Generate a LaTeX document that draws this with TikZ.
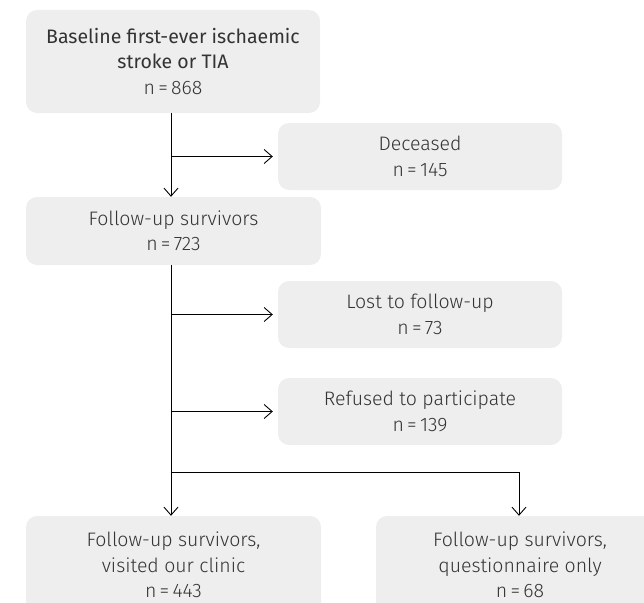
\documentclass[tikz,border=0pt]{standalone}
\usepackage{fontspec}
\setmainfont{Fira Sans Light}[BoldFont={Fira Sans}]
\usetikzlibrary{arrows.meta,calc}
\definecolor{BoxGrey}{HTML}{EEEEEE}
\definecolor{Ink}{HTML}{333333}

\begin{document}
\begin{tikzpicture}[x=1pt, y=-1pt, >={Straight Barb[length=8pt,width=14pt]},
    flowbox/.style={fill=BoxGrey, rounded corners=11pt, text=Ink, align=center,
      inner sep=0pt, font=\fontsize{19.5}{25.5}\selectfont},
    flowline/.style={line width=0.9pt, color=black}]
    \useasboundingbox (0,0) rectangle (644,602);
    \clip (0,0) rectangle (644,602);
    \coordinate (trunk) at (171,0);
    \coordinate (side) at (519,0);
    \node[flowbox, minimum width=294pt, minimum height=103pt] (base) at (173,61.5) {
      \textbf{Baseline first-ever ischaemic}\\\textbf{stroke or TIA}\\n\,=\,868
    };
    \node[flowbox, minimum width=284pt, minimum height=67pt] (dec) at (420,156.5) {
      Deceased\\n\,=\,145
    };
    \node[flowbox, minimum width=295pt, minimum height=68pt] (fu) at (173.5,231) {
      Follow-up survivors\\n\,=\,723
    };
    \node[flowbox, minimum width=284pt, minimum height=67pt] (lost) at (420,314.5) {
      Lost to follow-up\\n\,=\,73
    };
    \node[flowbox, minimum width=284pt, minimum height=67pt] (ref) at (420,411.5) {
      Refused to participate\\n\,=\,139
    };
    \node[flowbox, minimum width=295pt, minimum height=98pt] (clinic) at (173.5,565) {
      Follow-up survivors,\\visited our clinic\\n\,=\,443
    };
    \node[flowbox, minimum width=288pt, minimum height=98pt] (quest) at (520,565) {
      Follow-up survivors,\\questionnaire only\\n\,=\,68
    };
    \draw[->, flowline] (base.south -| trunk) -- (fu.north -| trunk);
    \draw[->, flowline, shorten >=5pt] (trunk |- dec.west) -- (dec.west);
    \draw[->, flowline] (fu.south -| trunk) -- (clinic.north -| trunk);
    \draw[->, flowline, shorten >=5pt] (trunk |- lost.west) -- (lost.west);
    \draw[->, flowline, shorten >=5pt] (trunk |- ref.west) -- (ref.west);
    \draw[->, flowline] (trunk |- 0,472) -- (side |- 0,472) -- (quest.north -| side);
  \end{tikzpicture}
\end{document}
